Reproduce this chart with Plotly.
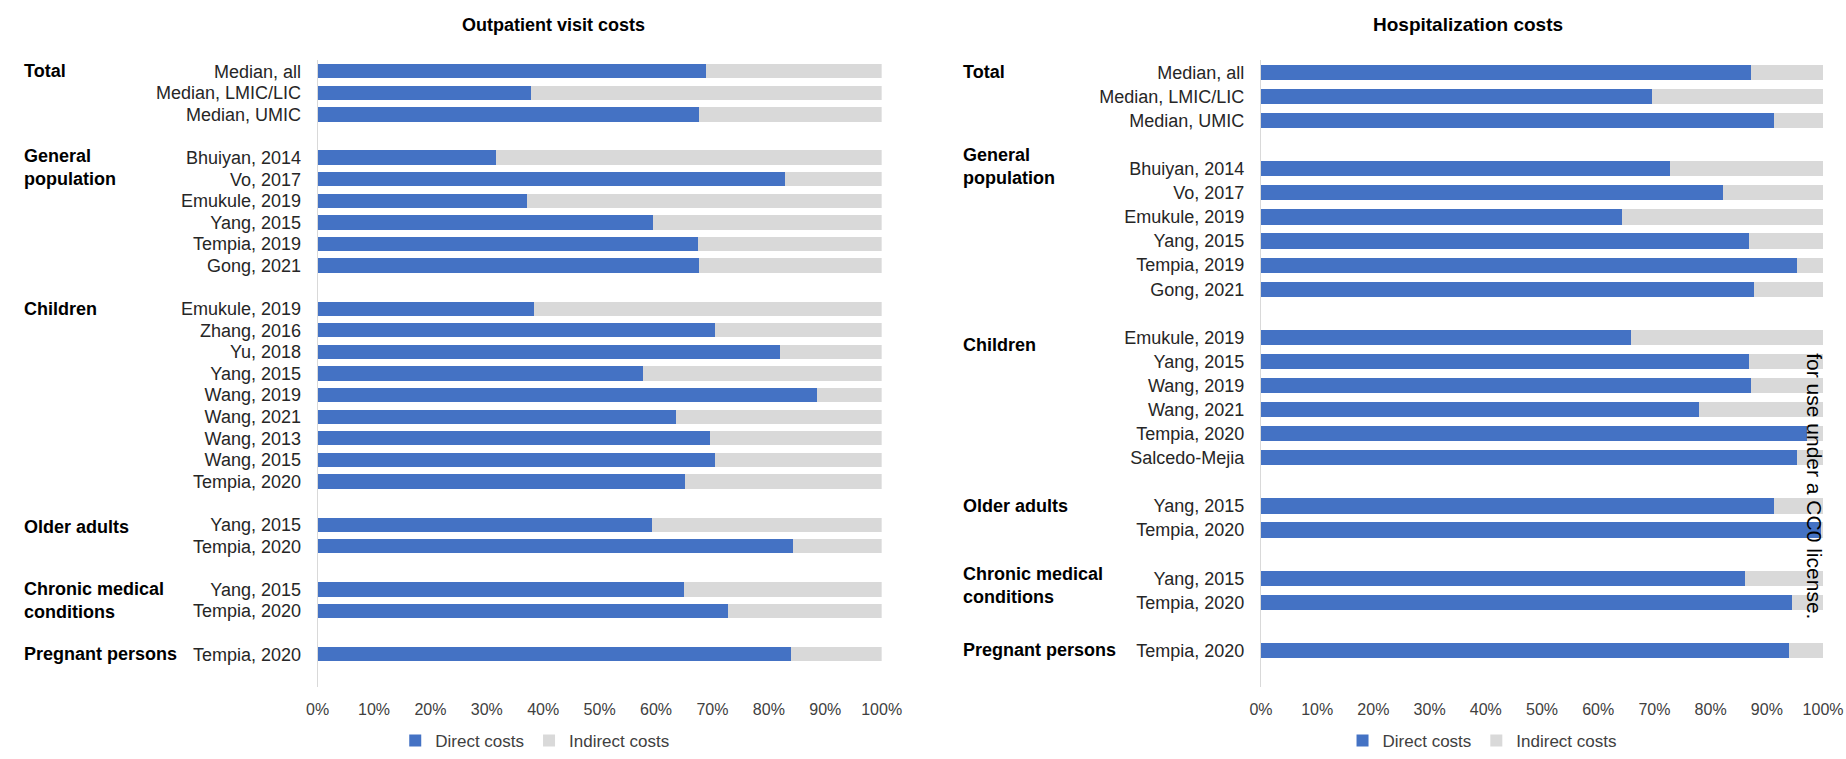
import plotly.graph_objects as go

# ---------------- data ----------------
group_names = ["Total", "General<br>population", "Children", "Older adults",
               "Chronic medical<br>conditions", "Pregnant persons"]

out_group_sizes = [3, 6, 9, 2, 2, 1]
out_labels = ["Median, all", "Median, LMIC/LIC", "Median, UMIC",
              "Bhuiyan, 2014", "Vo, 2017", "Emukule, 2019", "Yang, 2015", "Tempia, 2019", "Gong, 2021",
              "Emukule, 2019", "Zhang, 2016", "Yu, 2018", "Yang, 2015", "Wang, 2019", "Wang, 2021",
              "Wang, 2013", "Wang, 2015", "Tempia, 2020",
              "Yang, 2015", "Tempia, 2020",
              "Yang, 2015", "Tempia, 2020",
              "Tempia, 2020"]
out_direct = [68.8, 37.8, 67.7,
              31.6, 82.9, 37.2, 59.4, 67.4, 67.7,
              38.3, 70.5, 81.9, 57.7, 88.5, 63.6, 69.6, 70.5, 65.1,
              59.2, 84.3,
              64.9, 72.8,
              83.9]

hosp_group_sizes = [3, 6, 6, 2, 2, 1]
hosp_labels = ["Median, all", "Median, LMIC/LIC", "Median, UMIC",
               "Bhuiyan, 2014", "Vo, 2017", "Emukule, 2019", "Yang, 2015", "Tempia, 2019", "Gong, 2021",
               "Emukule, 2019", "Yang, 2015", "Wang, 2019", "Wang, 2021", "Tempia, 2020", "Salcedo-Mejia",
               "Yang, 2015", "Tempia, 2020",
               "Yang, 2015", "Tempia, 2020",
               "Tempia, 2020"]
hosp_direct = [87.1, 69.5, 91.2,
               72.8, 82.2, 64.3, 86.8, 95.4, 87.8,
               65.8, 86.8, 87.1, 78.0, 97.1, 95.4,
               91.2, 99.8,
               86.2, 94.5,
               94.0]

series_names = ["Direct costs", "Indirect costs"]
x_tick_vals = [0, 10, 20, 30, 40, 50, 60, 70, 80, 90, 100]
x_tick_text = ["0%", "10%", "20%", "30%", "40%", "50%", "60%", "70%", "80%", "90%", "100%"]

# ---------------- style ----------------
BLUE = "#4472C4"
GRAY = "#D9D9D9"
FONT = "Liberation Sans, Arial, sans-serif"
W, H = 1846, 759


def slot_positions(sizes):
    pos, starts, s = [], [], 0
    for n in sizes:
        starts.append(s)
        pos.extend(range(s, s + n))
        s += n + 1
    return pos, starts, s - 1


out_pos, out_starts, out_n = slot_positions(out_group_sizes)
hosp_pos, hosp_starts, hosp_n = slot_positions(hosp_group_sizes)

fig = go.Figure()

panels = [
    dict(pos=out_pos, direct=out_direct, xa="x", ya="y", legend="legend", width=0.66),
    dict(pos=hosp_pos, direct=hosp_direct, xa="x2", ya="y2", legend="legend2", width=0.63),
]
for p in panels:
    indirect = [100 - d for d in p["direct"]]
    for name, vals, col in zip(series_names, [p["direct"], indirect], [BLUE, GRAY]):
        fig.add_trace(go.Bar(
            x=vals, y=p["pos"], orientation="h", name=name,
            marker=dict(color=col, line=dict(width=0)), width=p["width"],
            xaxis=p["xa"], yaxis=p["ya"], legend=p["legend"],
            hovertemplate="%{x:.1f}%<extra>" + name + "</extra>",
        ))

ydom = [1 - 693 / H, 1 - 61 / H]
axis_x_common = dict(range=[0, 100], tickmode="array", tickvals=x_tick_vals, ticktext=x_tick_text,
                     showgrid=False, zeroline=False, showline=False, ticks="", ticklabelstandoff=11,
                     ticklabeloverflow="allow",
                     tickfont=dict(family=FONT, size=16, color="#404040"), fixedrange=True)
axis_y_common = dict(showgrid=False, zeroline=False, showline=True, linecolor="#D9D9D9",
                     linewidth=1, ticks="", ticklabelstandoff=12, tickmode="array",
                     tickfont=dict(family=FONT, size=18, color="#262626"), fixedrange=True)

fig.update_layout(
    width=W, height=H, autosize=False,
    margin=dict(l=0, r=0, t=0, b=0),
    paper_bgcolor="white", plot_bgcolor="white",
    barmode="stack",
    font=dict(family=FONT, color="#262626"),
    xaxis=dict(domain=[311 / W, 885 / W], anchor="y", **axis_x_common),
    xaxis2=dict(domain=[1271 / W, 1843 / W], anchor="y2", **axis_x_common),
    yaxis=dict(domain=ydom, anchor="x", range=[out_n + 0.5, -0.5],
               tickvals=out_pos, ticktext=out_labels, **axis_y_common),
    yaxis2=dict(domain=ydom, anchor="x2", range=[hosp_n + 0.5, -0.5],
                tickvals=hosp_pos, ticktext=hosp_labels, **axis_y_common),
    legend=dict(orientation="h", x=390 / W, y=1 - 748 / H, xanchor="left", yanchor="middle",
                traceorder="normal", font=dict(family=FONT, size=17, color="#404040"),
                bgcolor="rgba(0,0,0,0)"),
    legend2=dict(orientation="h", x=1354 / W, y=1 - 748 / H, xanchor="left", yanchor="middle",
                 traceorder="normal", font=dict(family=FONT, size=17, color="#404040"),
                 bgcolor="rgba(0,0,0,0)"),
)

# panel titles
fig.add_annotation(text="<b>Outpatient visit costs</b>", x=551 / W, y=1 - 25 / H, xref="paper", yref="paper",
                   showarrow=False, xanchor="center", yanchor="middle",
                   font=dict(family=FONT, size=18, color="#000000"))
fig.add_annotation(text="<b>Hospitalization costs</b>", x=1482 / W, y=1 - 25 / H, xref="paper", yref="paper",
                   showarrow=False, xanchor="center", yanchor="middle",
                   font=dict(family=FONT, size=19, color="#000000"))

# group labels
out_offsets = [0, 0.45, 0.03, 0.12, 0.5, 0]
hosp_offsets = [0, -0.1, 0.3, 0, 0.3, 0]
for starts, offs, yref, xpos in [(out_starts, out_offsets, "y", 10 / W), (hosp_starts, hosp_offsets, "y2", 966 / W)]:
    for g, s, o in zip(group_names, starts, offs):
        fig.add_annotation(text="<b>" + g + "</b>", x=xpos, xref="paper", y=s + o, yref=yref,
                           showarrow=False, xanchor="left", yanchor="middle", align="left",
                           font=dict(family=FONT, size=18, color="#000000"))

# licence watermark
fig.add_annotation(text="for use under a CC0 license.", x=1834 / W, y=1 - 491 / H, xref="paper", yref="paper",
                   showarrow=False, textangle=90, xanchor="center", yanchor="middle",
                   font=dict(family=FONT, size=21, color="#000000"))

fig.write_html("out.html", config={"displayModeBar": False},
               post_script="document.body.style.margin='0';document.body.style.overflow='hidden';")
